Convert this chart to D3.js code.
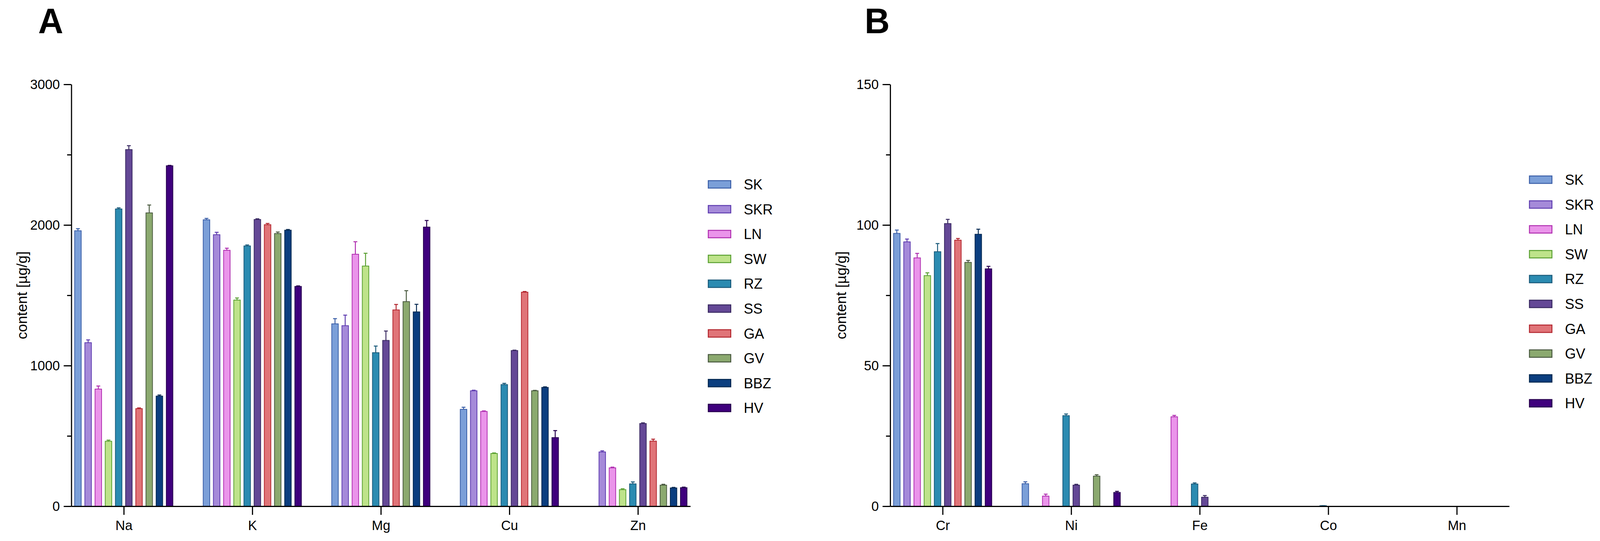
<!DOCTYPE html>
<html>
<head>
<meta charset="utf-8">
<script src="https://cdn.jsdelivr.net/npm/d3@7"></script>
<style>
  html, body { margin: 0; padding: 0; overflow: hidden; background: #fff; }
  #graph svg { display: block; width: 100vw; height: 100vh; }
  svg text { font-family: "Liberation Sans", Arial, Helvetica, sans-serif; fill: #000; }
</style>
</head>
<body>
<div id="graph"></div>
<script>
//sample groups (legend order)
const groups = ["SK", "SKR", "LN", "SW", "RZ", "SS", "GA", "GV", "BBZ", "HV"];
const fills   = ["#7b9fd8", "#a58ad9", "#ea94ea", "#bee38a", "#2b8bb1", "#644896", "#e07478", "#8ba96f", "#0b3e7f", "#3f007d"];
const strokes = ["#3b5fa8", "#5f3db0", "#b02fb0", "#5aa032", "#1b5b7b", "#3a2a62", "#b3262e", "#4a5a40", "#062a52", "#28004f"];

//panel A: macro elements
const elementsA = ["Na", "K", "Mg", "Cu", "Zn"];
const naMean = [1959, 1163, 833, 462, 2114, 2536, 694, 2086, 783, 2421];
const naErr  = [15, 20, 22, 8, 8, 28, 5, 56, 8, 3];
const kMean  = [2037, 1931, 1820, 1466, 1851, 2039, 2002, 1939, 1963, 1563];
const kErr   = [10, 17, 15, 15, 7, 5, 9, 11, 5, 4];
const mgMean = [1297, 1284, 1792, 1708, 1092, 1179, 1396, 1455, 1382, 1985];
const mgErr  = [37, 75, 89, 91, 47, 67, 39, 78, 54, 47];
const cuMean = [689, 821, 674, 375, 865, 1107, 1522, 821, 845, 488];
const cuErr  = [15, 4, 4, 4, 9, 3, 5, 3, 4, 50];
const znMean = [null, 386, 273, 118, 159, 588, 463, 150, 130, 132];
const znErr  = [0, 8, 5, 6, 14, 5, 14, 6, 4, 4];
const ticksA = [0, 1000, 2000, 3000];
const minorA = [500, 1500, 2500];

//panel B: trace elements
const elementsB = ["Cr", "Ni", "Fe", "Co", "Mn"];
const crMean = [97, 94, 88.3, 82, 90.5, 100.5, 94.6, 86.7, 96.7, 84.4];
const crErr  = [1.2, 1.0, 1.6, 1.0, 2.9, 1.5, 0.6, 0.7, 1.8, 0.9];
const niMean = [8.0, null, 3.6, null, 32.2, 7.5, null, 10.7, null, 4.9];
const niErr  = [0.7, 0, 0.7, 0, 0.6, 0.3, 0, 0.5, 0, 0.4];
const feMean = [null, null, 31.8, null, 7.9, 3.2, null, null, null, null];
const feErr  = [0, 0, 0.5, 0, 0.4, 0.6, 0, 0, 0, 0];
const coMean = [null, null, null, null, 0.2, null, null, null, null, null];
const coErr  = [0, 0, 0, 0, 0, 0, 0, 0, 0, 0];
const mnMean = [null, null, null, null, null, null, null, null, null, null];
const mnErr  = [0, 0, 0, 0, 0, 0, 0, 0, 0, 0];
const ticksB = [0, 50, 100, 150];
const minorB = [25, 75, 125];

//build flat rows for one panel
function buildRows(elements, means, errs){
    const rows = [];
    elements.forEach(function(el, i){
        groups.forEach(function(g, j){
            if (means[i][j] != null) {
                rows.push({ element: el, group: g, idx: j, mean: means[i][j], err: errs[i][j] });
            }
        });
    });
    return rows;
}

const W = 4195, H = 1385;
//drawn in a fixed 4195x1385 frame, stretched to whatever the window is
const svg = d3.select("#graph").append("svg")
    .attr("viewBox", "0 0 " + W + " " + H)
    .attr("preserveAspectRatio", "none");
svg.append("rect").attr("width", W).attr("height", H).attr("fill", "#fff");

//draw one panel
function drawPanel(opt){
    const x0 = opt.left, x1 = opt.left + 1623;
    const yTop = 216, yBot = 1296;
    const g = svg.append("g");

    //panel letter
    g.append("text")
        .attr("x", opt.letterX)
        .attr("y", 85)
        .attr("font-size", 91)
        .attr("font-weight", "bold")
        .text(opt.letter);

    //scales
    const x = d3.scalePoint().domain(opt.elements).range([x0, x1]).padding(0.408);
    const xs = d3.scaleBand().domain(groups).range([-133.5, 133.5]).paddingInner(0.36).paddingOuter(0.18);
    const y = d3.scaleLinear().domain([0, opt.max]).range([yBot, yTop]);
    const cx = function(d){ return x(d.element) + xs(d.group) + xs.bandwidth() / 2; };

    //bars with error bars
    const rows = buildRows(opt.elements, opt.means, opt.errs);
    const bars = g.append("g").selectAll("g").data(rows).enter().append("g");

    bars.append("line")
        .attr("x1", cx)
        .attr("x2", cx)
        .attr("y1", function(d){ return y(d.mean); })
        .attr("y2", function(d){ return y(d.mean + d.err); })
        .attr("stroke", function(d){ return strokes[d.idx]; })
        .attr("stroke-width", 2.5);

    bars.append("line")
        .attr("x1", function(d){ return cx(d) - 5; })
        .attr("x2", function(d){ return cx(d) + 5; })
        .attr("y1", function(d){ return y(d.mean + d.err); })
        .attr("y2", function(d){ return y(d.mean + d.err); })
        .attr("stroke", function(d){ return strokes[d.idx]; })
        .attr("stroke-width", 2.5);

    bars.append("rect")
        .attr("x", function(d){ return x(d.element) + xs(d.group); })
        .attr("y", function(d){ return y(d.mean); })
        .attr("width", xs.bandwidth())
        .attr("height", function(d){ return yBot - y(d.mean); })
        .attr("fill", function(d){ return fills[d.idx]; })
        .attr("stroke", function(d){ return strokes[d.idx]; })
        .attr("stroke-width", 2);

    //y axis: major and minor ticks
    g.append("g")
        .attr("transform", "translate(" + x0 + ",0)")
        .call(d3.axisLeft(y).tickValues(opt.ticks).tickFormat(d3.format("d"))
            .tickSize(20).tickSizeOuter(0).tickPadding(10));
    g.append("g")
        .attr("transform", "translate(" + x0 + ",0)")
        .call(d3.axisLeft(y).tickValues(opt.minor).tickSize(11).tickFormat(""))
        .select(".domain").remove();

    //x axis
    g.append("g")
        .attr("transform", "translate(0," + yBot + ")")
        .call(d3.axisBottom(x).tickSize(22).tickSizeOuter(0).tickPadding(14));

    g.selectAll(".domain, .tick line")
        .attr("stroke", "#000")
        .attr("stroke-width", 3);
    g.selectAll(".tick text")
        .attr("font-size", 35)
        .attr("fill", "#000")
        .attr("font-family", "Liberation Sans, Arial, sans-serif");

    //y axis title
    g.append("text")
        .attr("transform", "translate(" + (x0 - 116) + "," + ((yTop + yBot) / 2) + ") rotate(-90)")
        .attr("text-anchor", "middle")
        .attr("font-size", 37)
        .text("content [µg/g]");

    //legend
    const leg = g.append("g").selectAll("g").data(groups).enter().append("g")
        .attr("transform", function(d, i){ return "translate(" + opt.legendX + "," + (opt.legendY + i * 63.6) + ")"; });
    leg.append("rect")
        .attr("x", 0)
        .attr("y", -9.5)
        .attr("width", 59)
        .attr("height", 19)
        .attr("fill", function(d, i){ return fills[i]; })
        .attr("stroke", function(d, i){ return strokes[i]; })
        .attr("stroke-width", 2.5);
    leg.append("text")
        .attr("x", 93)
        .attr("y", 13)
        .attr("font-size", 37)
        .text(function(d){ return d; });
}

drawPanel({
    letter: "A", letterX: 100, left: 187,
    elements: elementsA, max: 3000, ticks: ticksA, minor: minorA,
    means: [naMean, kMean, mgMean, cuMean, znMean],
    errs: [naErr, kErr, mgErr, cuErr, znErr],
    legendX: 1857, legendY: 472
});

drawPanel({
    letter: "B", letterX: 2267, left: 2334,
    elements: elementsB, max: 150, ticks: ticksB, minor: minorB,
    means: [crMean, niMean, feMean, coMean, mnMean],
    errs: [crErr, niErr, feErr, coErr, mnErr],
    legendX: 4010, legendY: 460
});
</script>
</body>
</html>
